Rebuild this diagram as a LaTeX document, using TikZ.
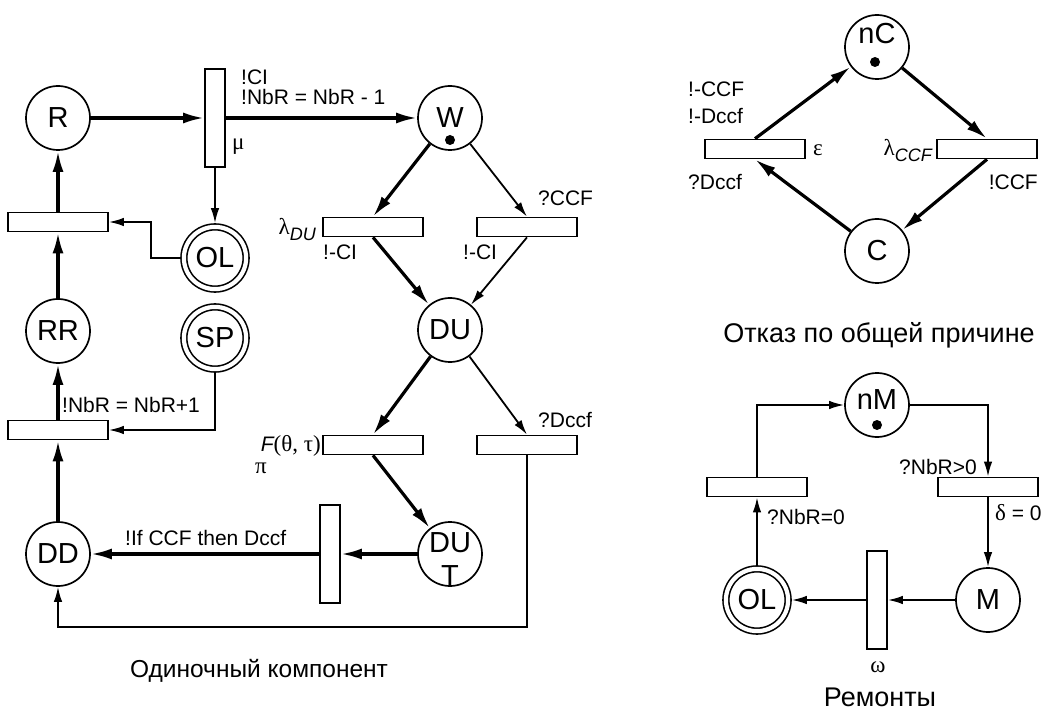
\documentclass[tikz,border=0pt]{standalone}
\usepackage{fontspec}
\setmainfont{Liberation Sans}
\newfontfamily\grk{Liberation Serif}
\usetikzlibrary{arrows.meta,calc}
\begin{document}
\begin{tikzpicture}[x=1pt,y=-1pt,
  every node/.style={inner sep=0pt},
  place/.style={circle,draw,line width=1.7pt,minimum size=64pt,font=\fontsize{29}{29}\selectfont},
  dplace/.style={circle,draw,line width=1.6pt,double,double distance=4.2pt,minimum size=62.2pt,outer sep=3.7pt,font=\fontsize{29}{29}\selectfont},
  ptext/.style={font=\fontsize{29}{29}\selectfont},
  hbar/.style={draw,line width=1.7pt,minimum width=100pt,minimum height=19pt},
  vbar/.style={draw,line width=1.7pt,minimum width=20pt,minimum height=98pt},
  thk/.style={line width=3.2pt,-{Latex[length=21pt,width=11pt]}},
  thn/.style={line width=1.8pt,-{Latex[length=15pt,width=8.5pt]}},
  lbl/.style={font=\fontsize{21}{21}\selectfont},
  gl/.style={font=\fontsize{23}{23}\selectfont\grk},
  ttl/.style={font=\fontsize{24.5}{24.5}\selectfont},
  ttr/.style={font=\fontsize{27}{27}\selectfont},
  token/.style={circle,fill,minimum size=10pt}
]
\useasboundingbox[fill=white] (0,0) rectangle (1047,711);

% ---------- single component ----------
\node[place] (R) at (58,118) {R};
\node[vbar] (T1) at (215,118) {};
\node[place] (W) at (450,118) {W};
\node[token] (Wt) at (450,140) {};
\node[dplace] (OL) at (215,258) {OL};
\node[hbar] (B1) at (58,222) {};
\node[place] (RR) at (58,331) {RR};
\node[dplace] (SP) at (215,338) {SP};
\node[hbar] (B2) at (58,430) {};
\node[place] (DD) at (58,554) {DD};
\node[vbar] (T2) at (330,554) {};
\node[place] (DUT) at (450,554) {};
\node[ptext] (DUTa) at (450,543) {DU};
\node[ptext] (DUTb) at (450,576) {T};
\node[hbar] (L1) at (373,227) {};
\node[hbar] (R1) at (527,227) {};
\node[place] (DU) at (450,330) {DU};
\node[hbar] (L2) at (373,445) {};
\node[hbar] (R2) at (527,445) {};
\coordinate (olk) at (151,240);
\coordinate (bot) at (300,627);

\draw[thk] (R) -- (T1);
\draw[thk] (T1) -- (W);
\draw[thn] (T1.south) -- (OL.north);
\draw[thk] (W) -- (L1.north);
\draw[thn] (W) -- (R1.north);
\draw[thk] (L1.south) -- (DU);
\draw[thn] (R1.south) -- (DU);
\draw[thk] (DU) -- (L2.north);
\draw[thn] (DU) -- (R2.north);
\draw[thk] (L2.south) -- (DUT);
\draw[thk] (DUT) -- (T2);
\draw[thk] (T2) -- (DD);
\draw[thk] (DD) -- (B2);
\draw[thk] (B2) -- (RR);
\draw[thk] (RR) -- (B1);
\draw[thk] (B1) -- (R);
\draw[thn] (SP.south) |- (B2.east);
\draw[thn] (OL.west) -| (olk) |- (B1.east);
\draw[thn] (R2.south) |- (bot) -| (DD.south);

\node[lbl,anchor=west] (l1) at (241,77) {!CI};
\node[lbl,anchor=west] (l2) at (241,97) {!NbR = NbR - 1};
\node[gl,anchor=west] (l3) at (232,147) {μ};
\node[anchor=east] (l4) at (316,229) {{\fontsize{23}{23}\selectfont\grk λ}\raisebox{-6pt}{\fontsize{18}{18}\selectfont\itshape DU}};
\node[lbl,anchor=west] (l5) at (323,252) {!-CI};
\node[lbl,anchor=west] (l6) at (463,252) {!-CI};
\node[lbl,anchor=west] (l7) at (538,198) {?CCF};
\node[anchor=east] (l8) at (321,446) {\fontsize{21}{21}\selectfont\itshape F\upshape{\fontsize{23}{23}\selectfont\grk (θ, τ)}};
\node[gl,anchor=west] (l9) at (255,468) {π};
\node[lbl,anchor=west] (l10) at (538,420) {?Dccf};
\node[lbl,anchor=west] (l11) at (62,405) {!NbR = NbR+1};
\node[lbl,anchor=west] (l12) at (125,538) {!If CCF then Dccf};
\node[ttl] (t1) at (259,671) {Одиночный компонент};

% ---------- common cause failure ----------
\node[place] (nC) at (877,47) {};
\node[ptext] (nCt) at (877,34) {nC};
\node[token] (nCk) at (875,62) {};
\node[place] (C) at (877,251) {C};
\node[hbar] (E) at (755,149) {};
\node[hbar] (Lc) at (987,149) {};
\draw[thk] (nC) -- (Lc.north);
\draw[thk] (Lc.south) -- (C);
\draw[thk] (C) -- (E.south);
\draw[thk] (E.north) -- (nC);
\node[lbl,anchor=west] (m1) at (688,89) {!-CCF};
\node[lbl,anchor=west] (m2) at (688,116) {!-Dccf};
\node[lbl,anchor=west] (m3) at (688,182) {?Dccf};
\node[gl,anchor=west] (m4) at (813,150) {ε};
\node[anchor=east] (m5) at (932,150) {{\fontsize{23}{23}\selectfont\grk λ}\raisebox{-6pt}{\fontsize{18}{18}\selectfont\itshape CCF}};
\node[lbl,anchor=east] (m6) at (1038,182) {!CCF};
\node[ttr] (t2) at (879,335) {Отказ по общей причине};

% ---------- repairs ----------
\node[place] (nM) at (877,405) {};
\node[ptext] (nMt) at (877,400) {nM};
\node[token] (nMk) at (877,425) {};
\node[hbar] (E2) at (757,487) {};
\node[hbar] (R3) at (988,487) {};
\node[place] (M) at (988,600) {M};
\node[vbar] (T3) at (877,600) {};
\node[dplace] (OL2) at (757,600) {OL};
\draw[thn] (E2.north) |- (nM.west);
\draw[thn] (nM.east) -| (R3.north);
\draw[thn] (R3.south) -- (M.north);
\draw[thn] (M.west) -- (T3.east);
\draw[thn] (T3.west) -- (OL2.east);
\draw[thn] (OL2.north) -- (E2.south);
\node[lbl,anchor=east] (n1) at (977,467) {?NbR>0};
\node[lbl,anchor=west] (n2) at (995,513) {{\fontsize{23}{23}\selectfont\grk δ} = 0};
\node[lbl,anchor=west] (n3) at (767,517) {?NbR=0};
\node[gl] (n4) at (878,667) {ω};
\node[ttr] (t3) at (880,697) {Ремонты};
\end{tikzpicture}
\end{document}
